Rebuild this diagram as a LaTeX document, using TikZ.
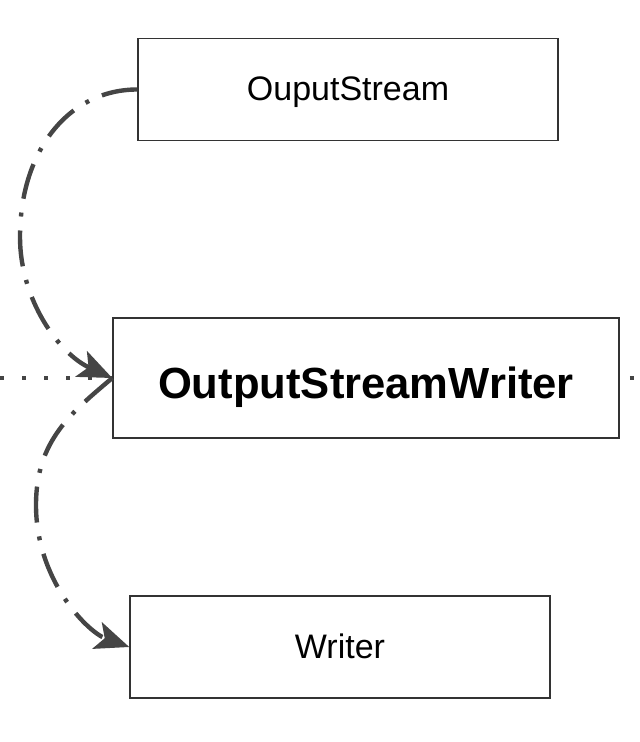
\documentclass[tikz,border=0pt]{standalone}
\usepackage{fontspec}
\setmainfont{Liberation Sans}
\usetikzlibrary{arrows.meta}

\definecolor{linegray}{HTML}{454545}
\definecolor{boxgray}{HTML}{333333}

\tikzset{
    classbox/.style={draw=boxgray, line width=0.75pt, rectangle, minimum width=210pt,
                     minimum height=51pt, inner sep=0pt, text depth=0pt,
                     font=\fontsize{17}{20}\selectfont},
    mainbox/.style={classbox, minimum width=253pt, minimum height=60pt,
                    font=\fontsize{21.8}{26}\selectfont\bfseries},
    dashdotline/.style={draw=linegray, line width=2.2pt,
                        dash pattern=on 18pt off 7pt on 2pt off 7pt,
                        -{Stealth[length=17pt, width=14pt, inset=4pt, fill=linegray]}},
    dotline/.style={draw=linegray, line width=2pt, dash pattern=on 2pt off 9pt}
}

\begin{document}
\begin{tikzpicture}[x=0.5pt, y=-0.5pt]
        \useasboundingbox (0,0) rectangle (639,742);

        \node[classbox, text height=11pt] (ouput)  at (348,89.5) {OuputStream};
        \node[mainbox, text height=20pt]  (writer) at (366,378)  {OutputStreamWriter};
        \node[classbox, text height=11pt] (wr)     at (340,647)  {Writer};

        \coordinate (inleft)   at (0,378);
        \coordinate (outright) at (639,378);
        \coordinate (bendup)   at (20,237);
        \coordinate (benddown) at (36,505);

        \draw[dotline] (inleft) -- (writer.west);
        \draw[dotline, dash phase=6pt] (writer.east) -- (outright);

        \draw[dashdotline] (ouput.west) .. controls +(-68,0) and +(0,-87) .. (bendup)
                                        .. controls +(0,63) and +(-53,-24) .. (writer.west);
        \draw[dashdotline] (writer.west) .. controls +(-40,34) and +(0,-65) .. (benddown)
                                         .. controls +(0,75) and +(-42,-15) .. (wr.west);
    \end{tikzpicture}
\end{document}
